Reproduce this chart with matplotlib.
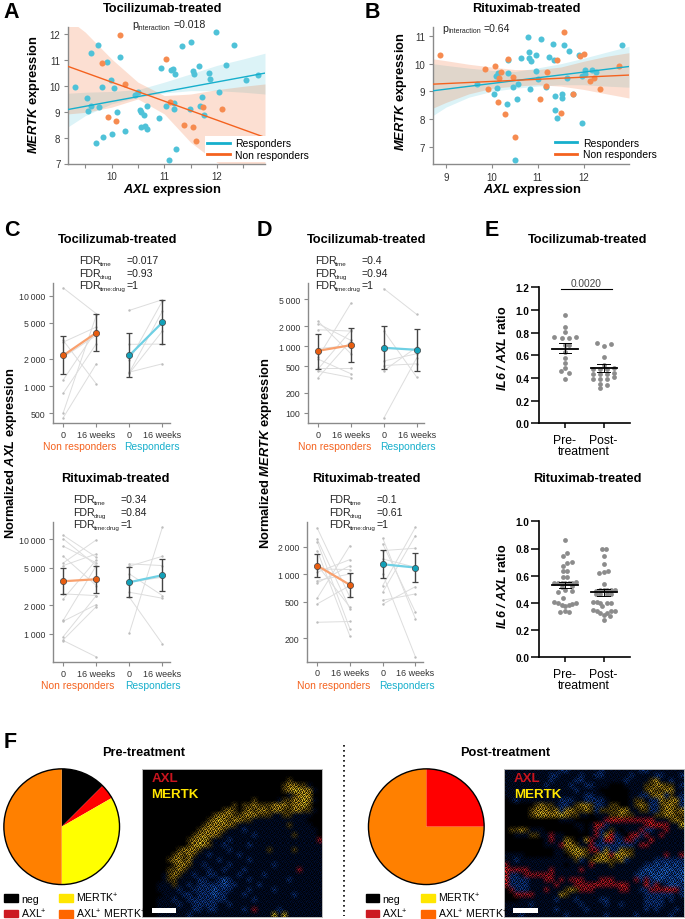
import numpy as np
from matplotlib import pyplot as plt
from matplotlib.lines import Line2D
from matplotlib.patches import Patch, Rectangle

plt.rcParams['font.family'] = ['Liberation Sans', 'DejaVu Sans']
plt.rcParams['mathtext.fontset'] = 'custom'
plt.rcParams['mathtext.rm'] = 'Liberation Sans'
plt.rcParams['mathtext.it'] = 'Liberation Sans:italic'
plt.rcParams['mathtext.bf'] = 'Liberation Sans:bold'
plt.rcParams['mathtext.bfit'] = 'Liberation Sans:italic:bold'
plt.rcParams['mathtext.default'] = 'regular'

# ======================
# DATA - panel A
# ======================
a_r_x = [9.31, 9.53, 9.55, 9.62, 9.77, 9.62, 9.75, 9.92, 9.82, 9.99, 10.05, 10.10, 9.83, 9.71, 10.01, 10.25,
         10.44, 10.50, 10.54, 10.55, 10.62, 10.67, 10.56, 10.64, 10.67, 10.90, 10.93, 10.17, 11.03, 11.13,
         11.16, 11.21, 11.19, 11.19, 11.09, 11.23, 11.33, 11.50, 11.54, 11.57, 11.66, 11.84, 11.87, 11.71,
         11.68, 11.76, 11.48, 11.99, 12.32, 12.18, 12.04, 12.55, 12.77]
a_r_y = [9.97, 9.54, 9.03, 9.21, 9.20, 11.27, 11.60, 10.94, 9.98, 10.24, 9.91, 9.00, 8.02, 7.79, 8.13, 8.24,
         9.67, 9.76, 9.09, 9.00, 8.88, 9.21, 8.42, 8.46, 8.32, 8.75, 10.70, 11.11, 9.24, 10.63,
         10.67, 10.45, 9.10, 9.36, 7.14, 7.57, 11.56, 11.70, 10.60, 10.48, 10.77, 10.51, 10.28, 9.58,
         9.24, 8.89, 9.11, 12.09, 11.60, 10.82, 9.78, 10.24, 10.41]
a_n_x = [10.17, 9.82, 10.25, 9.94, 10.08, 11.03, 11.11, 11.37, 11.55, 11.60, 11.73, 12.10]
a_n_y = [11.96, 10.89, 10.08, 8.79, 8.65, 11.05, 9.37, 8.50, 8.40, 7.87, 9.19, 9.11]
a_line_x = [9.175, 12.91]
a_r_line = [9.09, 10.50]
a_n_line = [10.76, 8.01]
a_band_x = [9.175, 9.5, 10, 10.5, 11, 11.5, 12, 12.5, 12.91]
a_r_up = [9.72, 9.76, 9.79, 9.86, 10.15, 10.47, 10.80, 11.05, 11.27]
a_r_lo = [8.42, 8.85, 9.31, 9.56, 9.73, 9.82, 9.82, 9.76, 9.69]
a_n_up = [12.6, 12.09, 11.05, 10.15, 9.63, 9.69, 9.86, 9.99, 10.08]
a_n_lo = [8.92, 8.98, 9.18, 9.50, 8.92, 7.82, 7.04, 6.5, 6.0]

# ======================
# DATA - panel B
# ======================
b_r_x = [9.68, 10.05, 10.11, 10.08, 10.14, 10.32, 10.35, 10.35, 10.47, 10.56, 10.55, 10.50, 10.64, 10.79, 10.81,
         10.81, 10.86, 10.84, 10.96, 10.97, 11.01, 11.08, 11.18, 11.25, 11.34, 11.36, 11.37, 11.38, 11.41, 11.54,
         11.54, 11.58, 11.63, 11.68, 11.76, 11.89, 11.97, 11.97, 12.03, 12.03, 12.18, 12.27, 12.83]
b_r_y = [9.28, 8.92, 9.13, 9.55, 9.67, 8.53, 9.65, 10.15, 9.14, 9.26, 8.74, 6.53, 10.20, 10.96, 10.41,
         10.21, 10.11, 9.08, 10.30, 9.73, 9.45, 10.89, 9.16, 10.24, 10.70, 10.12, 8.82, 8.31, 8.02, 8.89,
         8.75, 10.69, 9.49, 10.47, 8.89, 10.32, 7.86, 9.57, 9.77, 9.62, 9.77, 9.71, 10.67]
b_n_x = [8.87, 9.84, 9.92, 10.06, 10.13, 10.16, 10.19, 10.29, 10.35, 10.46, 10.50, 11.04, 11.17, 11.20, 11.41,
         11.50, 11.57, 11.76, 11.92, 12.00, 12.13, 12.23, 12.36, 12.78]
b_n_y = [10.32, 9.82, 9.07, 9.90, 8.60, 9.50, 9.71, 8.18, 10.17, 9.51, 7.36, 8.74, 9.20, 9.71, 10.15,
         8.21, 11.15, 8.89, 10.27, 10.34, 9.38, 9.48, 9.07, 9.90]
b_line_x = [8.71, 12.99]
b_r_line = [9.02, 9.90]
b_n_line = [9.26, 9.59]
b_band_x = [8.71, 9, 9.5, 10, 10.5, 11, 11.5, 12, 12.5, 12.99]
b_r_up = [10.0, 9.94, 9.84, 9.76, 9.72, 9.85, 10.0, 10.2, 10.42, 10.63]
b_r_lo = [8.12, 8.43, 8.79, 9.0, 9.11, 9.19, 9.24, 9.24, 9.19, 9.15]
b_n_up = [10.18, 10.11, 9.98, 9.88, 9.79, 9.79, 9.88, 10.09, 10.27, 10.40]
b_n_lo = [8.39, 8.6, 8.91, 9.11, 9.19, 9.24, 9.19, 9.07, 8.91, 8.76]

# ======================
# DATA - panel C
# ======================
c1_n_0 = [12160, 3070, 1175, 837, 511, 450, 3200, 2094]
c1_n_16 = [6320, 4500, 4130, 2940, 6060, 1767, 1061, 3640]
c1_r_0 = [6880, 1429, 1393, 1416, 1923, 2900]
c1_r_16 = [9030, 1767, 4060, 6760, 8730, 2918]
c1_n_mean, c1_n_lo, c1_n_hi = [2185, 3893], [1358, 2462], [3575, 6210]
c1_r_mean, c1_r_lo, c1_r_hi = [2185, 5070], [1258, 2918], [3893, 8870]

c2_n_0 = [11020, 10080, 8435, 6610, 5625, 5270, 2646, 2342, 1394, 1361, 937, 865, 851]
c2_n_16 = [6450, 5270, 5625, 3240, 9840, 6998, 2540, 6050, 5270, 2042, 2540, 1944, 571]
c2_r_0 = [1025, 2440, 5490, 5186, 4305, 2754, 3514]
c2_r_16 = [13400, 784, 5270, 6610, 2540, 2381, 3970]
c2_n_mean, c2_n_lo, c2_n_hi = [3600, 3780], [2624, 2735], [5020, 5186]
c2_r_mean, c2_r_lo, c2_r_hi = [3514, 4167], [2440, 2870], [5145, 6150]

# ======================
# DATA - panel D
# ======================
d1_n_0 = [2163, 2344, 1758, 684, 468, 457, 422, 339, 638, 920]
d1_n_16 = [1216, 767, 1679, 4416, 468, 1718, 339, 1216, 385, 1023]
d1_r_0 = [7244, 1679, 84, 513, 431, 600]
d1_r_16 = [2985, 343, 668, 543, 966, 770]
d1_n_mean, d1_n_lo, d1_n_hi = [851, 1035], [457, 575], [1514, 1862]
d1_r_mean, d1_r_lo, d1_r_hi = [944, 881], [452, 431], [1972, 1799]

d2_n_0 = [3199, 2427, 2270, 1811, 1265, 853, 803, 547, 474, 299, 1143, 1052]
d2_n_16 = [561, 419, 253, 211, 437, 1008, 1243, 2054, 752, 305, 1125, 1446]
d2_r_0 = [2472, 2143, 1811, 1008, 752, 637, 520, 471, 1469]
d2_r_16 = [326, 385, 1923, 125, 3258, 2642, 610, 733, 1191]
d2_n_mean, d2_n_lo, d2_n_hi = [1243, 765], [927, 561], [1679, 1025]
d2_r_mean, d2_r_lo, d2_r_hi = [1285, 1183], [904, 832], [1827, 1693]

# ======================
# DATA - panel E
# ======================
e1_pre = [.96, .847, .81, .76, .765, .75, .75, .69, .69, .626, .58, .53, .49, .46, .44, .394]
e1_pre_off = [0, 0, 0, -.276, .284, -.086, .103, 0, .103, 0, 0, 0, 0, -.103, .103, 0]
e1_post = [.706, .70, .68, .582, .518, .48, .485, .48, .48, .435, .435, .435, .44, .405, .39, .39, .39, .347, .338, .315]
e1_post_off = [-.18, .19, 0, 0, 0, -.276, .276, -.095, .095, -.276, -.095, .095, .276, .276, -.276, -.095, .095,
               -.095, .095, -.095]
e1_mean, e1_lo, e1_hi = [.66, .485], [.62, .455], [.71, .52]

e2_pre = [.863, .765, .747, .699, .693, .672, .632, .632, .593, .588, .55, .55, .55, .55, .55, .55, .555, .527,
          .483, .497, .488, .515, .436, .409, .397, .385, .38, .385, .392, .397, .333, .343, .336]
e2_pre_off = [0, .05, -.05, .17, .05, -.05, -.05, .05, -.05, .05, -.276, -.18, -.086, 0, .103, .19, .284, .19,
              -.17, 0, .17, -.086, -.05, -.276, -.18, -.086, 0, .103, .19, .284, -.12, 0, .11]
e2_post = [.797, .797, .748, .689, .62, .625, .632, .537, .49, .495, .497, .497, .497, .495, .466, .466, .466, .466,
           .407, .407, .40, .40, .40, .375, .35, .338, .326, .311, .326, .338, .343, .277, .306]
e2_post_off = [-.05, .05, 0, 0, -.11, 0, .11, 0, -.19, -.095, 0, .095, .19, .284, -.19, -.095, .095, .19,
               -.276, -.18, -.095, .095, .19, -.05, -.276, -.18, -.095, 0, .095, .19, .284, 0, .17]
e2_mean, e2_lo, e2_hi = [.532, .48], [.51, .45], [.555, .505]

# ======================
# DATA - panel F
# ======================
pie_pre = [12.5, 4.2, 33.3, 50]
pie_post = [0, 25, 0, 75]
pie_colors = ['black', '#ff0000', '#ffff00', '#ff8000']
key_labels = ['neg', 'AXL$^{+}$', 'MERTK$^{+}$', 'AXL$^{+}$ MERTK$^{+}$']
key_colors = ['black', '#cc1a22', '#ffe600', '#ff6600']

# micrographs, coarse hand-read mosaics of the two pictures
palette = {'.': (0, 0, 0), ',': (0, 15, 50), 'b': (15, 60, 150), 'B': (30, 105, 220), 'o': (110, 85, 15),
           'y': (215, 170, 30), 'Y': (250, 215, 40), 'r': (190, 25, 40), 'R': (245, 35, 40)}
micro_pre = [
    "....................................",
    "....................................",
    ".............................o......",
    "............................oyyoo,..",
    "............................oyYYyy,.",
    ".............................,oyYy..",
    "......................o....,ooyyYy,.",
    "..................o.ooyoooyyyoyyYo..",
    "................oyo.oyoyyoyyooyyoo,.",
    "..............oyyyooyyyooo,,oo,,,,..",
    ".............oyYyoyyoo,,,,,,,,,,,...",
    "............oyyyyyo,,,,,,,,,,o,,,,..",
    "...........oyyyyo,,,b,,,,,,,,,,,,,,.",
    "..........oyyyyo,,,,,,b,,,,,,,o,,,,.",
    ".........oyyYo,,,b,,,,,,,,,,,,,,,,,r",
    ".........oyYyo,,b,,,,b,,,,,,,,,,,,,,",
    ".......oyyyo,,,,,b,,,,,,,o,,,,o,,,,,",
    "......oyoyo,,b,,,,,b,,,,,,,,,,,,,,,,",
    ".....oyyoy,,,,,b,,,,,b,,,,,,,,,,,,,,",
    "......oyyo,,b,,,,b,,,,,,,,b,,,,,,,,,",
    ".....ooyo,,,,b,,b,,,b,,,,,,,,,,r,,,,",
    "....,oyo,,b,,bb,,,,b,,,,b,,,,,,,,,,,",
    "....,oo,,,,bb,,bBb,,,b,,,,,,,b,,,,,,",
    "...,,,o,,b,bbbbbBbb,,,,b,,,,,,,,,,,,",
    "...,,,,b,,bbbbBbbb,,,b,,,,b,,,,,,,,,",
    "....,,,,bb,bbbBbb,,,b,,,,,,,,,b,,,,,",
    "...,,,b,,bbbbbbbb,,,,,b,,,,,,,,,,,,,",
    "...,,,,b,,bbbbb,,b,,,,,,,,,,,,,,,,,,",
    "...,,,,,,,bb,bb,,,,,b,r,,,,b,,,,,,,,",
    "...,,,,,,b,,,,,,,,,,,,,,,,Y,Y,,,,,,,",
]
micro_post = [
    ",,,,,,,,,,,bb,,,,,,b,,,,,,,bb,,,,,,,",
    ",,,,,,,,,bb,,,,b,,bb,,,,,b,,,,bb,,,b",
    ",,,,,,,,,b,,,,bb,,,,,,,,b,,,,oy,,b,,",
    ",,,,,,,,b,,,,b,,bb,,,...,,,,ooyyoo,b",
    ",,,,,,,,,,,,,,b,,,,......,,,oyooyy,,",
    ",,,,,,,,,,,,,,,,bb,,.....,,bboyybo,b",
    ".,b,,,,,,,,bbb,,bbbb,....,oo,bbyoyyb",
    "......oyoo,bb,oyyobb,oo..,oyobboyyob",
    ".....oyyyoybyyooyobooooyy,,oobboyyoy",
    ".....oyYyyyYyoo,,.,,,ooyoo,,,,ooyyoo",
    "...........,,,.....,rRRrrrrrrR,,,oyo",
    "..............,,.,RRb,,,,,,,rRRRr,,Y",
    ".ooyo,,,.......,.,rb,o,.,,,rbb,,r,,,",
    "..,,,oo,,r,,.....,rbyRb,.rRbr,,r,,,,",
    "........,r,,yo.,yr,bRRbbrrb,,R,,,,,,",
    "........,,,ryyo,,rbbbbbbbb,rr,,,,,,,",
    "..........,,oyYyorrbybbyoo,,,,,,,,,,",
    ",,,,......,,.oyyo,oyyrYyyo,,,,,,r,,r",
    ",,b,,,,,,,,,,,ob,oyyyooyb,,,,,bbbbbb",
    "r,,,,,,,,,,,.,,,,r,,,o,,,,,,bbBbBbBb",
    "Rrrrr,,,,r,,,,,r,,,,,,,,,,,bBBbBBBbB",
    "Rbb,rrrrrr,,,,,,,,,,,,,,,,bBbBBBBbBB",
    "Rbbbb,,,rr,r,rrr,,,rrr,,,,rbrbBBbBbB",
    "Rbbbb,,,,,r,,,rrrrRrrrrRr,,,Rbr,bBBb",
    ".rbbb,,,r,,,oyorrr,,,,,rr,,bbrrrRRrb",
    "..rrrr,,,,,yo,,,,,,,,,,,,,,,bbbbbb,b",
    "...,,,,,,,b,,,b,,,,bb,,,,,,,bbbb,b,,",
    ",,,,,b,,,,,,,,,b,,,,b,,b,,,,bbbb,,,,",
    ",,,,,,,,,,b,,,,,b,,,,,,,,,,,b,b,,,b,",
    ",,,b,,,,,,,,b,,,,,,,b,,,,,b,,,,,,b,,",
]
# dark stipple laid over the mosaics so they read as cells, digit = darkness
grain = ["08380749", "39916283", "72058917", "84937162", "19260548", "63871930", "90548276", "27169384"]

# ======================
# STYLE AND HELPERS
# ======================
W, H = 685, 920
BLUE = '#16afcc'
ORANGE = '#f4621f'
DOT_BLUE = '#4fc2d8'
DOT_ORANGE = '#f68b50'
GREY = '#8a8a8a'

fig = plt.figure(figsize=(W / 100, H / 100), dpi=100)


def px_axes(l, t, r, b):
    return fig.add_axes([l / W, 1 - b / H, (r - l) / W, (b - t) / H])


def ftext(x, y, s, **kw):
    kw.setdefault('va', 'center')
    return fig.text(x / W, 1 - y / H, s, **kw)


def title(x, y, s):
    ftext(x, y, s, ha='center', fontsize=9.2, fontweight='bold')


def letter(x, y, s):
    ftext(x, y, s, ha='left', fontsize=15.5, fontweight='bold')


def clean(ax, color=GREY, lw=1.0):
    ax.spines[['top', 'right']].set_visible(False)
    ax.spines[['left', 'bottom']].set_color(color)
    ax.spines[['left', 'bottom']].set_linewidth(lw)


def scatter_panel(pos, xlim, ylim, xticks, yticks, minor, band_x, r_up, r_lo, n_up, n_lo,
                  r_x, r_y, n_x, n_y, line_x, r_line, n_line, legend_at):
    ax = px_axes(*pos)
    ax.fill_between(band_x, r_lo, r_up, color=BLUE, alpha=0.15, lw=0)
    ax.fill_between(band_x, n_lo, n_up, color=ORANGE, alpha=0.2, lw=0)
    ax.scatter(r_x, r_y, s=19, color=DOT_BLUE, lw=0, zorder=3)
    ax.scatter(n_x, n_y, s=19, color=DOT_ORANGE, lw=0, zorder=3)
    ax.plot(line_x, r_line, color=BLUE, lw=1, zorder=4)
    ax.plot(line_x, n_line, color=ORANGE, lw=1, zorder=4)
    ax.set_xlim(xlim)
    ax.set_ylim(ylim)
    ax.set_xticks(xticks)
    ax.set_yticks(yticks)
    ax.set_xticks(minor, minor=True)
    ax.tick_params(length=3, width=0.8, color=GREY, labelsize=7, labelcolor='#333333', pad=2.5)
    ax.tick_params(which='minor', length=3, width=0.8, color=GREY)
    clean(ax)
    handles = [Line2D([], [], color=BLUE, lw=2), Line2D([], [], color=ORANGE, lw=2)]
    leg = ax.legend(handles, ['Responders', 'Non responders'], loc='lower left', bbox_to_anchor=legend_at,
                    fontsize=7.5, handlelength=2.2, handletextpad=0.5, labelspacing=0.15, borderpad=0.2,
                    fancybox=False, framealpha=1, edgecolor='none', facecolor='white', borderaxespad=0)
    leg.set_zorder(5)
    return ax


def paired_panel(pos, ylim, ticks, labels, n0, n16, r0, r16, n_mean, n_lo, n_hi, r_mean, r_lo, r_hi):
    ax = px_axes(*pos)
    for xs, before, after in [((0, 1), n0, n16), ((2, 3), r0, r16)]:
        for a, b in zip(before, after):
            ax.plot(xs, [a, b], color='#dddddd', lw=0.7, zorder=1)
        ax.scatter([xs[0]] * len(before), before, s=3, color='#bdbdbd', lw=0, zorder=2)
        ax.scatter([xs[1]] * len(after), after, s=3, color='#bdbdbd', lw=0, zorder=2)
    groups = [((0, 1), n_mean, n_lo, n_hi, '#f9a06d', '#e85d10'),
              ((2, 3), r_mean, r_lo, r_hi, '#6fd0e4', '#13a0b8')]
    for xs, m, lo, hi, line_c, dot_c in groups:
        m, lo, hi = np.array(m), np.array(lo), np.array(hi)
        ax.errorbar(xs, m, yerr=[m - lo, hi - m], fmt='none', ecolor='#444444', elinewidth=1, capsize=2.2,
                    capthick=0.9, zorder=3)
        ax.plot(xs, m, color=line_c, lw=1.6, zorder=4)
        ax.scatter(xs, m, s=20, color=dot_c, edgecolor='#444444', lw=0.5, zorder=5)
    ax.set_yscale('log')
    ax.set_xlim(-0.32, 3.23)
    ax.set_ylim(ylim)
    ax.set_yticks(ticks)
    ax.set_yticklabels(labels)
    ax.minorticks_off()
    ax.set_xticks([0, 1, 2, 3])
    ax.set_xticklabels(['0', '16 weeks', '0', '16 weeks'])
    ax.tick_params(length=3, width=0.8, color=GREY, labelsize=6.3, labelcolor='#333333', pad=2.5)
    ax.tick_params(axis='x', labelsize=6.5, pad=1.5)
    clean(ax)
    return ax


def fdr_block(x, x_val, y, vals):
    subs = ['time', 'drug', 'time:drug']
    for i in range(3):
        row = y + i * 12.6
        ftext(x, row, 'FDR', fontsize=7.6, color='#222222')
        ftext(x + 20.5, row + 3.5, subs[i], fontsize=4.5, color='#222222')
        ftext(x_val, row, vals[i], fontsize=7.6, color='#222222')


def dot_panel(pos, ylim, yticks, ticklabels, pre, pre_off, post, post_off, mean, lo, hi):
    ax = px_axes(*pos)
    ax.scatter(np.array(pre_off), pre, s=12, color='#8c8c8c', lw=0, zorder=2)
    ax.scatter(1 + np.array(post_off), post, s=12, color='#8c8c8c', lw=0, zorder=2)
    for i in range(2):
        ax.plot([i - 0.336, i + 0.336], [mean[i], mean[i]], color='black', lw=1.3, zorder=3)
        ax.plot([i, i], [lo[i], hi[i]], color='black', lw=0.7, zorder=3)
        ax.plot([i - 0.164, i + 0.164], [lo[i], lo[i]], color='black', lw=0.7, zorder=3)
        ax.plot([i - 0.164, i + 0.164], [hi[i], hi[i]], color='black', lw=0.7, zorder=3)
    ax.set_xlim(-0.664, 1.681)
    ax.set_ylim(ylim)
    ax.set_yticks(yticks)
    ax.set_yticklabels(ticklabels, fontweight='bold')
    ax.set_xticks([0, 1])
    ax.set_xticklabels(['Pre-', 'Post-'])
    ax.tick_params(axis='y', length=5.5, width=1.1, labelsize=7.2, pad=1.5)
    ax.tick_params(axis='x', length=3.5, width=1.1, labelsize=8.8, pad=4)
    clean(ax, 'black', 1.2)
    return ax


def pie_panel(cx, cy, values):
    r = 59
    ax = px_axes(cx - r, cy - r, cx + r, cy + r)
    ax.pie(values, colors=pie_colors, startangle=90, counterclock=False, radius=1, wedgeprops={'lw': 0})
    ax.add_patch(plt.Circle((0, 0), 1, fill=False, ec='black', lw=1))
    ax.set_xlim(-1.02, 1.02)
    ax.set_ylim(-1.02, 1.02)


def key(x, y):
    handles = [Patch(color=c) for c in key_colors]
    fig.legend(handles, key_labels, loc='lower left', bbox_to_anchor=(x / W, 1 - y / H), ncol=2, frameon=False,
               fontsize=7.6, handlelength=1.3, handleheight=0.75, handletextpad=0.3, columnspacing=1.2,
               labelspacing=0.25, borderpad=0, borderaxespad=0)


def micrograph(pos, rows, text_x, bar):
    ax = px_axes(*pos)
    img = np.array([[palette[ch] for ch in row.ljust(36, '.')[:36]] for row in rows], dtype=float) / 255
    extent = (pos[0], pos[2], pos[3], pos[1])
    ax.imshow(img, aspect='auto', interpolation='bilinear', extent=extent)
    tile = np.array([[int(ch) / 10 for ch in row] for row in grain])
    alpha = np.tile(tile, (19, 23))[:int(pos[3] - pos[1]), :int(pos[2] - pos[0])]
    shade = np.zeros(alpha.shape + (4,))
    shade[..., 3] = alpha
    ax.imshow(shade, aspect='auto', interpolation='nearest', extent=extent)
    ax.set_xticks([])
    ax.set_yticks([])
    for s in ax.spines.values():
        s.set_color('#bbbbbb')
        s.set_linewidth(0.7)
    ax.add_patch(Rectangle((bar, 909), 24.5, 4.7, color='white', lw=0))
    ftext(text_x, 779, 'AXL', color='#c8141e', fontsize=9.6, fontweight='bold')
    ftext(text_x, 795, 'MERTK', color='#ffe600', fontsize=9.6, fontweight='bold')


def pvalue(x, y, sub_x, val_x, val):
    ftext(x, y, 'p', fontsize=7.6, color='#222222')
    ftext(sub_x, y + 3, 'interaction', fontsize=5, color='#222222')
    ftext(val_x, y, val, fontsize=7.6, color='#222222')


# ======================
# PANELS A, B
# ======================
scatter_panel((68, 28, 265, 164.5), (9.175, 12.91), (7.0, 12.285), [10, 11, 12], [7, 8, 9, 10, 11, 12],
              [9.5, 10.5, 11.5, 12.5], a_band_x, a_r_up, a_r_lo, a_n_up, a_n_lo, a_r_x, a_r_y, a_n_x, a_n_y,
              a_line_x, a_r_line, a_n_line, (0.695, 0.01))
scatter_panel((432.7, 28, 629, 165), (8.71, 12.99), (6.37, 11.33), [9, 10, 11, 12], [7, 8, 9, 10, 11],
              [], b_band_x, b_r_up, b_r_lo, b_n_up, b_n_lo, b_r_x, b_r_y, b_n_x, b_n_y,
              b_line_x, b_r_line, b_n_line, (0.61, 0.02))

letter(3, 12.5, 'A')
letter(365, 12.5, 'B')
title(163, 9.5, 'Tocilizumab-treated')
title(526.5, 9.5, 'Rituximab-treated')
pvalue(132.5, 25, 138, 173, '=0.018')
pvalue(442.5, 28.5, 448.5, 483, '=0.64')
for x, y in [(172.7, 190.5), (532, 190.5)]:
    ftext(x, y, r'$\mathbfit{AXL}$ expression', ha='center', fontsize=9.3, fontweight='bold')
for x, y in [(34, 95), (401, 92)]:
    ftext(x, y, r'$\mathbfit{MERTK}$ expression', ha='center', rotation=90, fontsize=9.3, fontweight='bold')

# ======================
# PANELS C, D
# ======================
paired_panel((52.7, 284, 170, 424.3), (389, 13800), [500, 1000, 2000, 5000, 10000],
             ['500', '1\u2009000', '2\u2009000', '5\u2009000', '10\u2009000'], c1_n_0, c1_n_16, c1_r_0, c1_r_16,
             c1_n_mean, c1_n_lo, c1_n_hi, c1_r_mean, c1_r_lo, c1_r_hi)
paired_panel((52.7, 523.3, 170, 663.3), (501, 15100), [1000, 2000, 5000, 10000],
             ['1\u2009000', '2\u2009000', '5\u2009000', '10\u2009000'], c2_n_0, c2_n_16, c2_r_0, c2_r_16,
             c2_n_mean, c2_n_lo, c2_n_hi, c2_r_mean, c2_r_lo, c2_r_hi)
paired_panel((307.7, 284, 424.3, 424.3), (70, 8810), [100, 200, 500, 1000, 2000, 5000],
             ['100', '200', '500', '1\u2009000', '2\u2009000', '5\u2009000'], d1_n_0, d1_n_16, d1_r_0, d1_r_16,
             d1_n_mean, d1_n_lo, d1_n_hi, d1_r_mean, d1_r_lo, d1_r_hi)
paired_panel((306.7, 523.3, 423, 662.7), (111, 3690), [200, 500, 1000, 2000],
             ['200', '500', '1\u2009000', '2\u2009000'], d2_n_0, d2_n_16, d2_r_0, d2_r_16,
             d2_n_mean, d2_n_lo, d2_n_hi, d2_r_mean, d2_r_lo, d2_r_hi)

letter(4, 230, 'C')
letter(257, 230, 'D')
title(118, 240, 'Tocilizumab-treated')
title(115, 479, 'Rituximab-treated')
title(367, 240, 'Tocilizumab-treated')
title(366, 479, 'Rituximab-treated')
fdr_block(79.3, 126.7, 261, ['=0.017', '=0.93', '=1'])
fdr_block(73, 120, 500.3, ['=0.34', '=0.84', '=1'])
fdr_block(314.7, 361, 261, ['=0.4', '=0.94', '=1'])
fdr_block(329.3, 376.7, 500.3, ['=0.1', '=0.61', '=1'])
for nx, rx, y in [(80, 152, 447), (78, 153, 686), (335, 407.7, 447), (334, 406.7, 686)]:
    ftext(nx, y, 'Non responders', ha='center', color=ORANGE, fontsize=7.4)
    ftext(rx, y, 'Responders', ha='center', color=BLUE, fontsize=7.4)
ftext(11, 453, r'Normalized $\mathbfit{AXL}$ expression', ha='center', rotation=90, fontsize=9.3, fontweight='bold')
ftext(266, 453, r'Normalized $\mathbfit{MERTK}$ expression', ha='center', rotation=90, fontsize=9.3,
      fontweight='bold')

# ======================
# PANEL E
# ======================
ax = dot_panel((539.3, 288.3, 630, 424.3), (0, 1.2), [0, .2, .4, .6, .8, 1.0, 1.2],
               ['0.0', '0.2', '0.4', '0.6', '0.8', '1.0', '1.2'], e1_pre, e1_pre_off, e1_post, e1_post_off,
               e1_mean, e1_lo, e1_hi)
ax.plot([-0.11, 1.21], [1.182, 1.182], color='black', lw=0.8, clip_on=False)
ax.text(0.55, 1.19, '0.0020', ha='center', va='bottom', fontsize=7.3, color='#444444')
dot_panel((539.3, 522.3, 630, 658.3), (0, 1.0), [0, .2, .4, .6, .8, 1.0],
          ['0.0', '0.2', '0.4', '0.6', '0.8', '1.0'], e2_pre, e2_pre_off, e2_post, e2_post_off,
          e2_mean, e2_lo, e2_hi)

letter(485, 230, 'E')
title(588, 240, 'Tocilizumab-treated')
title(587, 479, 'Rituximab-treated')
ftext(584, 452.5, 'treatment', ha='center', fontsize=8.8)
ftext(584, 686.5, 'treatment', ha='center', fontsize=8.8)
ftext(503, 348, r'$\mathbfit{IL6\ /\ AXL}$ ratio', ha='center', rotation=90, fontsize=9, fontweight='bold')
ftext(503, 586, r'$\mathbfit{IL6\ /\ AXL}$ ratio', ha='center', rotation=90, fontsize=9, fontweight='bold')

# ======================
# PANEL F
# ======================
letter(4, 743, 'F')
title(144, 752.5, 'Pre-treatment')
title(505, 752.5, 'Post-treatment')
pie_panel(61.7, 827.7, pie_pre)
pie_panel(426.3, 827.7, pie_post)
key(4, 921)
key(365.5, 921)
micrograph((142.3, 769.7, 322.3, 918.3), micro_pre, 151.5, 151.7)
micrograph((504.3, 769.7, 684, 918.3), micro_post, 514, 513)
fig.add_artist(Line2D([343.5 / W, 343.5 / W], [1 - 746 / H, 1 - 917 / H], color='black', lw=1.2,
                      ls=(0, (1, 2))))

fig.savefig('out.png', dpi=100)
